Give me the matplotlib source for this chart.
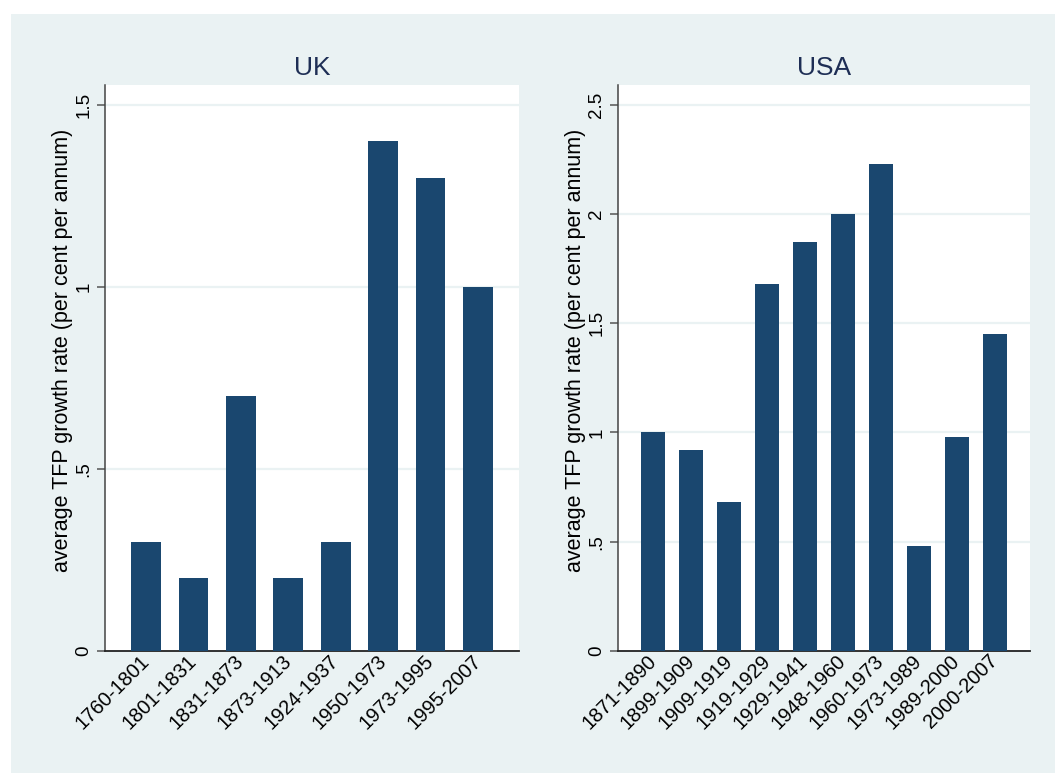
import numpy as np
import matplotlib
matplotlib.use("Agg")
import matplotlib.pyplot as plt
import matplotlib.transforms as mtrans
from matplotlib.patches import Rectangle

plt.rcParams['font.family'] = ['Liberation Sans', 'DejaVu Sans']

uk_periods = ['1760-1801', '1801-1831', '1831-1873', '1873-1913', '1924-1937',
              '1950-1973', '1973-1995', '1995-2007']
uk_tfp = [0.3, 0.2, 0.7, 0.2, 0.3, 1.4, 1.3, 1.0]

usa_periods = ['1871-1890', '1899-1909', '1909-1919', '1919-1929', '1929-1941',
               '1948-1960', '1960-1973', '1973-1989', '1989-2000', '2000-2007']
usa_tfp = [1.0, 0.92, 0.68, 1.68, 1.87, 2.0, 2.23, 0.48, 0.98, 1.45]

uk_ticks = [0, 0.5, 1, 1.5]
uk_ticklabels = ['0', '.5', '1', '1.5']
usa_ticks = [0, 0.5, 1, 1.5, 2, 2.5]
usa_ticklabels = ['0', '.5', '1', '1.5', '2', '2.5']

bg = '#EAF2F3'
navy = '#1A476F'
ylab = 'average TFP growth rate (per cent per annum)'

fig = plt.figure(figsize=(10.55, 7.73), dpi=100)
fig.patch.set_facecolor('white')
# light panel behind both graphs, Stata-style
fig.add_artist(Rectangle((11 / 1055, 0), 1 - 11 / 1055, 1 - 14 / 773,
                         transform=fig.transFigure, facecolor=bg,
                         edgecolor='none', zorder=-10))


def panel(rect, title, periods, values, ticks, ticklabels, ytop, pad):
    ax = fig.add_axes(rect)
    ax.set_facecolor('white')
    x = np.arange(len(periods))
    ax.bar(x, values, width=0.63, color=navy, zorder=3)
    ax.set_xlim(-pad, len(periods) - 1 + pad)
    ax.set_ylim(0, ytop)
    ax.set_yticks(ticks)
    ax.set_yticklabels(ticklabels, rotation=90, va='center', fontsize=13.5)
    for t in ticks[1:]:
        ax.axhline(t, color=bg, lw=1.6, zorder=1)
    ax.set_xticks(x)
    ax.set_xticklabels(periods, rotation=45, ha='right', va='center',
                       rotation_mode='anchor', fontsize=14.5)
    shift = mtrans.ScaledTranslation(5 / 100, 0, fig.dpi_scale_trans)
    for lab in ax.get_xticklabels():
        lab.set_transform(lab.get_transform() + shift)
    ax.tick_params(axis='x', length=0, pad=5)
    ax.tick_params(axis='y', length=6, width=1.1, color='#555555', pad=3)
    for s in ['top', 'right']:
        ax.spines[s].set_visible(False)
    ax.spines['left'].set_color('#444444')
    ax.spines['bottom'].set_color('#222222')
    ax.spines['left'].set_linewidth(1.1)
    ax.spines['bottom'].set_linewidth(1.3)
    ax.set_ylabel(ylab, fontsize=15.5, labelpad=1.5)
    ax.yaxis.label.set_y(0.532)
    ax.set_title(title, fontsize=19, color='#1E2E55', pad=7)
    return ax


panel([105 / 1055, 122 / 773, 414 / 1055, 566 / 773], 'UK', uk_periods, uk_tfp,
      uk_ticks, uk_ticklabels, 1.555, 0.865)
panel([618 / 1055, 122 / 773, 412 / 1055, 566 / 773], 'USA', usa_periods, usa_tfp,
      usa_ticks, usa_ticklabels, 2.59, 0.93)

fig.savefig('out.png', dpi=100)
